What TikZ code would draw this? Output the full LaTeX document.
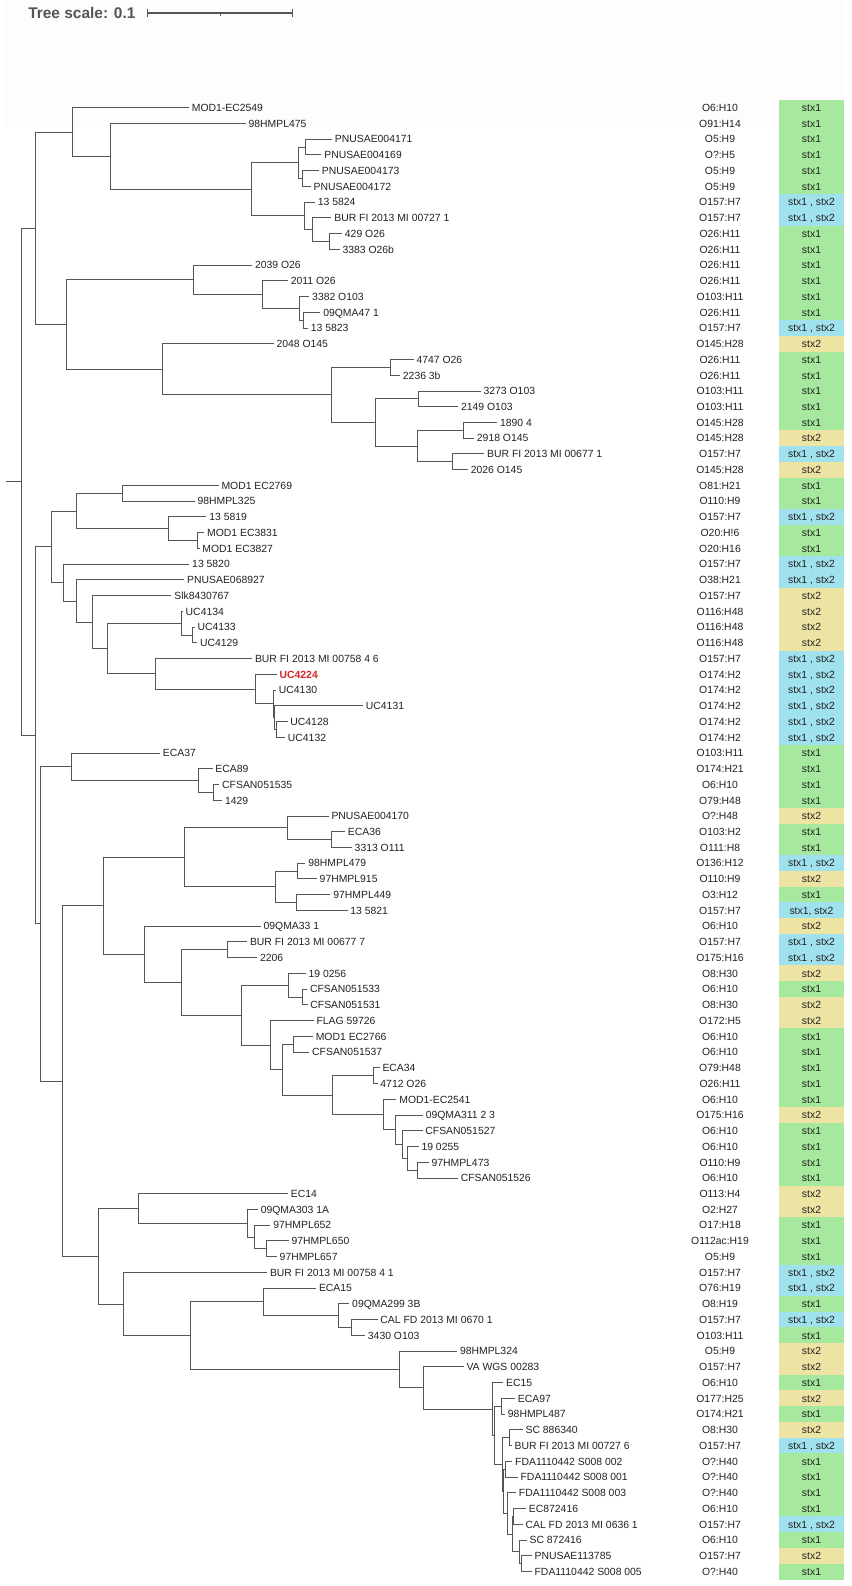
\documentclass[tikz,border=0pt]{standalone}
\usepackage{fontspec}
\setmainfont{Liberation Sans}
\usetikzlibrary{calc}
\definecolor{cG}{RGB}{166,233,158}
\definecolor{cB}{RGB}{160,225,238}
\definecolor{cY}{RGB}{237,227,163}
\definecolor{hl}{RGB}{214,39,40}
\definecolor{ln}{RGB}{85,85,85}
\definecolor{tx}{RGB}{34,34,34}
\definecolor{hdr}{RGB}{254,252,253}
\tikzset{
  br/.style={draw=ln, line width=0.75pt},
  lab/.style={anchor=west, inner xsep=2pt, inner ysep=0pt, text height=5.6pt, text depth=0pt, text=tx, font=\fontsize{7.8pt}{9pt}\selectfont},
  sero/.style={inner sep=0pt, text height=5.6pt, text depth=0pt, text=tx, font=\fontsize{7.8pt}{9pt}\selectfont},
  stx/.style={inner sep=0pt, minimum width=48.75pt, minimum height=11.95pt, text height=5.6pt, text depth=0pt, text=tx, font=\fontsize{7.8pt}{9pt}\selectfont},
}
\newcommand\tleaf[7]{%
  \coordinate (#1) at (#2,{107.7+(#3-1)*15.74});
  \node[lab] (#1t) at (#1) {#4};
  \node[sero] (#1s) at (720,{107.7+(#3-1)*15.74}) {#5};
  \node[stx, fill=#6] (#1b) at (811.5,{107.7+(#3-1)*15.74}) {#7};
}
\newcommand\tnode[4]{%
  \path let \p1=(#3), \p2=(#4) in coordinate (#1) at ($(#2,0)+(0pt,{0.5*(\y1+\y2)})$);
  \draw[br] (#1) |- (#3) (#1) |- (#4);
}
\begin{document}
\begin{tikzpicture}[x=0.75pt,y=-0.75pt]
\useasboundingbox (0,0) rectangle (851,1586);
\fill[white] (0,0) rectangle (851,1586);
\fill[hdr] (5,0) rectangle (844,128);
% header
\node[anchor=west, inner sep=0pt, text=ln, font=\fontsize{11.6pt}{13pt}\selectfont\bfseries] (scaletxt) at (28,12.5) {Tree scale: 0.1};
\coordinate (sb1) at (147.5,13);
\coordinate (sb2) at (292.9,13);
\coordinate (sbm) at (220.2,13);
\draw[draw=ln, line width=0.8pt] (sb1) -- (sb2);
\draw[draw=ln, line width=0.8pt] ($(sb1)+(0,-4)$) -- ($(sb1)+(0,4)$);
\draw[draw=ln, line width=0.8pt] ($(sb2)+(0,-4)$) -- ($(sb2)+(0,4)$);
\draw[draw=ln, line width=0.8pt] (sbm) -- ($(sbm)+(0,2.5)$);
% leaves
\tleaf{L1}{189}{1}{MOD1-EC2549}{O6:H10}{cG}{stx1}
\tleaf{L2}{245.7}{2}{98HMPL475}{O91:H14}{cG}{stx1}
\tleaf{L3}{332}{3}{PNUSAE004171}{O5:H9}{cG}{stx1}
\tleaf{L4}{321.4}{4}{PNUSAE004169}{O?:H5}{cG}{stx1}
\tleaf{L5}{319}{5}{PNUSAE004173}{O5:H9}{cG}{stx1}
\tleaf{L6}{310.7}{6}{PNUSAE004172}{O5:H9}{cG}{stx1}
\tleaf{L7}{315}{7}{13 5824}{O157:H7}{cB}{stx1 , stx2}
\tleaf{L8}{331.4}{8}{BUR FI 2013 MI 00727 1}{O157:H7}{cB}{stx1 , stx2}
\tleaf{L9}{342}{9}{429 O26}{O26:H11}{cG}{stx1}
\tleaf{L10}{339.6}{10}{3383 O26b}{O26:H11}{cG}{stx1}
\tleaf{L11}{252.1}{11}{2039 O26}{O26:H11}{cG}{stx1}
\tleaf{L12}{287.9}{12}{2011 O26}{O26:H11}{cG}{stx1}
\tleaf{L13}{309.3}{13}{3382 O103}{O103:H11}{cG}{stx1}
\tleaf{L14}{320.4}{14}{09QMA47 1}{O26:H11}{cG}{stx1}
\tleaf{L15}{307.9}{15}{13 5823}{O157:H7}{cB}{stx1 , stx2}
\tleaf{L16}{273.6}{16}{2048 O145}{O145:H28}{cY}{stx2}
\tleaf{L17}{413.6}{17}{4747 O26}{O26:H11}{cG}{stx1}
\tleaf{L18}{400}{18}{2236 3b}{O26:H11}{cG}{stx1}
\tleaf{L19}{480.7}{19}{3273 O103}{O103:H11}{cG}{stx1}
\tleaf{L20}{458.2}{20}{2149 O103}{O103:H11}{cG}{stx1}
\tleaf{L21}{497.1}{21}{1890 4}{O145:H28}{cG}{stx1}
\tleaf{L22}{474}{22}{2918 O145}{O145:H28}{cY}{stx2}
\tleaf{L23}{484.3}{23}{BUR FI 2013 MI 00677 1}{O157:H7}{cB}{stx1 , stx2}
\tleaf{L24}{467.9}{24}{2026 O145}{O145:H28}{cY}{stx2}
\tleaf{L25}{218.6}{25}{MOD1 EC2769}{O81:H21}{cG}{stx1}
\tleaf{L26}{194.6}{26}{98HMPL325}{O110:H9}{cG}{stx1}
\tleaf{L27}{206.4}{27}{13 5819}{O157:H7}{cB}{stx1 , stx2}
\tleaf{L28}{204.3}{28}{MOD1 EC3831}{O20:H!6}{cG}{stx1}
\tleaf{L29}{199.5}{29}{MOD1 EC3827}{O20:H16}{cG}{stx1}
\tleaf{L30}{189.3}{30}{13 5820}{O157:H7}{cB}{stx1 , stx2}
\tleaf{L31}{184.3}{31}{PNUSAE068927}{O38:H21}{cB}{stx1 , stx2}
\tleaf{L32}{171.4}{32}{Slk8430767}{O157:H7}{cY}{stx2}
\tleaf{L33}{182.8}{33}{UC4134}{O116:H48}{cY}{stx2}
\tleaf{L34}{194.6}{34}{UC4133}{O116:H48}{cY}{stx2}
\tleaf{L35}{197.1}{35}{UC4129}{O116:H48}{cY}{stx2}
\tleaf{L36}{252.1}{36}{BUR FI 2013 MI 00758 4 6}{O157:H7}{cB}{stx1 , stx2}
\tleaf{L37}{276.7}{37}{{\bfseries\color{hl}UC4224}}{O174:H2}{cB}{stx1 , stx2}
\tleaf{L38}{276}{38}{UC4130}{O174:H2}{cB}{stx1 , stx2}
\tleaf{L39}{363}{39}{UC4131}{O174:H2}{cB}{stx1 , stx2}
\tleaf{L40}{287.5}{40}{UC4128}{O174:H2}{cB}{stx1 , stx2}
\tleaf{L41}{285}{41}{UC4132}{O174:H2}{cB}{stx1 , stx2}
\tleaf{L42}{160}{42}{ECA37}{O103:H11}{cG}{stx1}
\tleaf{L43}{212.5}{43}{ECA89}{O174:H21}{cG}{stx1}
\tleaf{L44}{219.3}{44}{CFSAN051535}{O6:H10}{cG}{stx1}
\tleaf{L45}{222.1}{45}{1429}{O79:H48}{cG}{stx1}
\tleaf{L46}{328.6}{46}{PNUSAE004170}{O?:H48}{cY}{stx2}
\tleaf{L47}{345}{47}{ECA36}{O103:H2}{cG}{stx1}
\tleaf{L48}{351.8}{48}{3313 O111}{O111:H8}{cG}{stx1}
\tleaf{L49}{305.4}{49}{98HMPL479}{O136:H12}{cB}{stx1 , stx2}
\tleaf{L50}{316.8}{50}{97HMPL915}{O110:H9}{cY}{stx2}
\tleaf{L51}{330.4}{51}{97HMPL449}{O3:H12}{cG}{stx1}
\tleaf{L52}{347.5}{52}{13 5821}{O157:H7}{cB}{stx1, stx2}
\tleaf{L53}{260.7}{53}{09QMA33 1}{O6:H10}{cY}{stx2}
\tleaf{L54}{247.1}{54}{BUR FI 2013 MI 00677 7}{O157:H7}{cB}{stx1 , stx2}
\tleaf{L55}{257.1}{55}{2206}{O175:H16}{cB}{stx1 , stx2}
\tleaf{L56}{305.7}{56}{19 0256}{O8:H30}{cY}{stx2}
\tleaf{L57}{307.1}{57}{CFSAN051533}{O6:H10}{cG}{stx1}
\tleaf{L58}{307.5}{58}{CFSAN051531}{O8:H30}{cY}{stx2}
\tleaf{L59}{313.6}{59}{FLAG 59726}{O172:H5}{cY}{stx2}
\tleaf{L60}{312.9}{60}{MOD1 EC2766}{O6:H10}{cG}{stx1}
\tleaf{L61}{309.3}{61}{CFSAN051537}{O6:H10}{cG}{stx1}
\tleaf{L62}{379.6}{62}{ECA34}{O79:H48}{cG}{stx1}
\tleaf{L63}{377.5}{63}{4712 O26}{O26:H11}{cG}{stx1}
\tleaf{L64}{396.4}{64}{MOD1-EC2541}{O6:H10}{cG}{stx1}
\tleaf{L65}{422.9}{65}{09QMA311 2 3}{O175:H16}{cY}{stx2}
\tleaf{L66}{422.5}{66}{CFSAN051527}{O6:H10}{cG}{stx1}
\tleaf{L67}{418.6}{67}{19 0255}{O6:H10}{cG}{stx1}
\tleaf{L68}{428.6}{68}{97HMPL473}{O110:H9}{cG}{stx1}
\tleaf{L69}{457.9}{69}{CFSAN051526}{O6:H10}{cG}{stx1}
\tleaf{L70}{287.9}{70}{EC14}{O113:H4}{cY}{stx2}
\tleaf{L71}{257.9}{71}{09QMA303 1A}{O2:H27}{cY}{stx2}
\tleaf{L72}{270.4}{72}{97HMPL652}{O17:H18}{cG}{stx1}
\tleaf{L73}{288.6}{73}{97HMPL650}{O112ac:H19}{cG}{stx1}
\tleaf{L74}{276.8}{74}{97HMPL657}{O5:H9}{cG}{stx1}
\tleaf{L75}{267.1}{75}{BUR FI 2013 MI 00758 4 1}{O157:H7}{cB}{stx1 , stx2}
\tleaf{L76}{316.1}{76}{ECA15}{O76:H19}{cB}{stx1 , stx2}
\tleaf{L77}{349.3}{77}{09QMA299 3B}{O8:H19}{cG}{stx1}
\tleaf{L78}{377.5}{78}{CAL FD 2013 MI 0670 1}{O157:H7}{cB}{stx1 , stx2}
\tleaf{L79}{365}{79}{3430 O103}{O103:H11}{cG}{stx1}
\tleaf{L80}{457.1}{80}{98HMPL324}{O5:H9}{cY}{stx2}
\tleaf{L81}{463.6}{81}{VA WGS 00283}{O157:H7}{cY}{stx2}
\tleaf{L82}{503.3}{82}{EC15}{O6:H10}{cG}{stx1}
\tleaf{L83}{515}{83}{ECA97}{O177:H25}{cY}{stx2}
\tleaf{L84}{505}{84}{98HMPL487}{O174:H21}{cG}{stx1}
\tleaf{L85}{522.7}{85}{SC 886340}{O8:H30}{cY}{stx2}
\tleaf{L86}{511.7}{86}{BUR FI 2013 MI 00727 6}{O157:H7}{cB}{stx1 , stx2}
\tleaf{L87}{512.3}{87}{FDA1110442 S008 002}{O?:H40}{cG}{stx1}
\tleaf{L88}{517.7}{88}{FDA1110442 S008 001}{O?:H40}{cG}{stx1}
\tleaf{L89}{516}{89}{FDA1110442 S008 003}{O?:H40}{cG}{stx1}
\tleaf{L90}{526}{90}{EC872416}{O6:H10}{cG}{stx1}
\tleaf{L91}{522.7}{91}{CAL FD 2013 MI 0636 1}{O157:H7}{cB}{stx1 , stx2}
\tleaf{L92}{526.7}{92}{SC 872416}{O6:H10}{cG}{stx1}
\tleaf{L93}{531.7}{93}{PNUSAE113785}{O157:H7}{cY}{stx2}
\tleaf{L94}{531.7}{94}{FDA1110442 S008 005}{O?:H40}{cG}{stx1}
% top clade
\tnode{G}{329.3}{L9}{L10}
\tnode{F}{312.9}{L8}{G}
\tnode{D1}{305.4}{L3}{L4}
\tnode{D2}{302.9}{L5}{L6}
\tnode{D}{298.6}{D1}{D2}
\tnode{E}{304.3}{L7}{F}
\tnode{C}{251.4}{D}{E}
\tnode{B}{110.4}{L2}{C}
\tnode{A}{72.5}{L1}{B}
\tnode{L}{303.6}{L14}{L15}
\tnode{K}{299.3}{L13}{L}
\tnode{J}{262.1}{L12}{K}
\tnode{I}{193.6}{L11}{J}
\tnode{O}{390.7}{L17}{L18}
\tnode{Q}{418.6}{L19}{L20}
\tnode{S}{463.2}{L21}{L22}
\tnode{T}{452.9}{L23}{L24}
\tnode{R}{417.1}{S}{T}
\tnode{P}{375}{Q}{R}
\tnode{N}{331.4}{O}{P}
\tnode{M}{162.1}{L16}{N}
\tnode{H}{66.8}{I}{M}
\tnode{R1}{35.4}{A}{H}
% middle clade
\tnode{Y}{122.5}{L25}{L26}
\tnode{AA}{197.5}{L28}{L29}
\tnode{Z}{168.2}{L27}{AA}
\tnode{W}{76.8}{Y}{Z}
\tnode{AF}{192.9}{L34}{L35}
\tnode{AE}{181.1}{L33}{AF}
\tnode{AK}{276.7}{L40}{L41}
\tnode{AJ}{274.3}{L39}{AK}
\tnode{AI}{273.3}{L38}{AJ}
\tnode{AH}{255}{L37}{AI}
\tnode{AG}{155.7}{L36}{AH}
\tnode{AD}{107.9}{AE}{AG}
\tnode{AC}{92.5}{L32}{AD}
\tnode{AB}{76.4}{L31}{AC}
\tnode{X}{63.6}{L30}{AB}
\tnode{U}{51.8}{W}{X}
% bottom clade
\tnode{VD}{213.6}{L44}{L45}
\tnode{VC}{198.9}{L43}{VD}
\tnode{VA}{71.8}{L42}{VC}
\tnode{VK}{331.1}{L47}{L48}
\tnode{VI}{287.9}{L46}{VK}
\tnode{VL}{297.5}{L49}{L50}
\tnode{VM}{296.4}{L51}{L52}
\tnode{VJ}{275.7}{VL}{VM}
\tnode{VG}{184.6}{VI}{VJ}
\tnode{VO}{227.5}{L54}{L55}
\tnode{VS}{302.9}{L57}{L58}
\tnode{VQ}{288.6}{L56}{VS}
\tnode{VU}{293.6}{L60}{L61}
\tnode{VW}{373.2}{L62}{L63}
\tnode{WB}{417.1}{L68}{L69}
\tnode{WA}{407.1}{L67}{WB}
\tnode{VZ}{402.1}{L66}{WA}
\tnode{VY}{395}{L65}{VZ}
\tnode{VX}{383.2}{L64}{VY}
\tnode{VV}{332.5}{VW}{VX}
\tnode{VT}{282.1}{VU}{VV}
\tnode{VR}{270.4}{L59}{VT}
\tnode{VP}{241.8}{VQ}{VR}
\tnode{VN}{181.4}{VO}{VP}
\tnode{VH}{144.6}{L53}{VN}
\tnode{VE}{103.2}{VG}{VH}
\tnode{WG}{266.4}{L73}{L74}
\tnode{WF}{254.6}{L72}{WG}
\tnode{WE}{247.9}{L71}{WF}
\tnode{WC}{138.9}{L70}{WE}
\tnode{WL}{351.1}{L78}{L79}
\tnode{WK}{338.2}{L77}{WL}
\tnode{WI}{263.2}{L76}{WK}
\tnode{P1}{501.7}{L83}{L84}
\tnode{P2}{509.3}{L85}{L86}
\tnode{P3}{505.7}{L87}{L88}
\tnode{P4}{513.3}{L90}{L91}
\tnode{P5}{521.7}{L93}{L94}
\tnode{P6}{519.3}{L92}{P5}
\tnode{P7}{512}{P4}{P6}
\tnode{P8}{507}{L89}{P7}
\tnode{P9}{503.3}{P3}{P8}
\tnode{P10}{502}{P2}{P9}
\tnode{WO}{494}{P1}{P10}
\tnode{WN}{492.6}{L82}{WO}
\tnode{WM}{423.9}{L81}{WN}
\tnode{WJ}{399.3}{L80}{WM}
\tnode{WH}{190}{WI}{WJ}
\tnode{WD}{123.6}{L75}{WH}
\tnode{VF}{98.6}{WC}{WD}
\tnode{VB}{62.5}{VE}{VF}
\tnode{V}{40}{VA}{VB}
\tnode{R2}{35.4}{U}{V}
\tnode{R0}{21.4}{R1}{R2}
\coordinate (rootend) at ($(R0)+(-15,0)$);
\draw[br] (rootend) -- (R0);
\end{tikzpicture}
\end{document}
